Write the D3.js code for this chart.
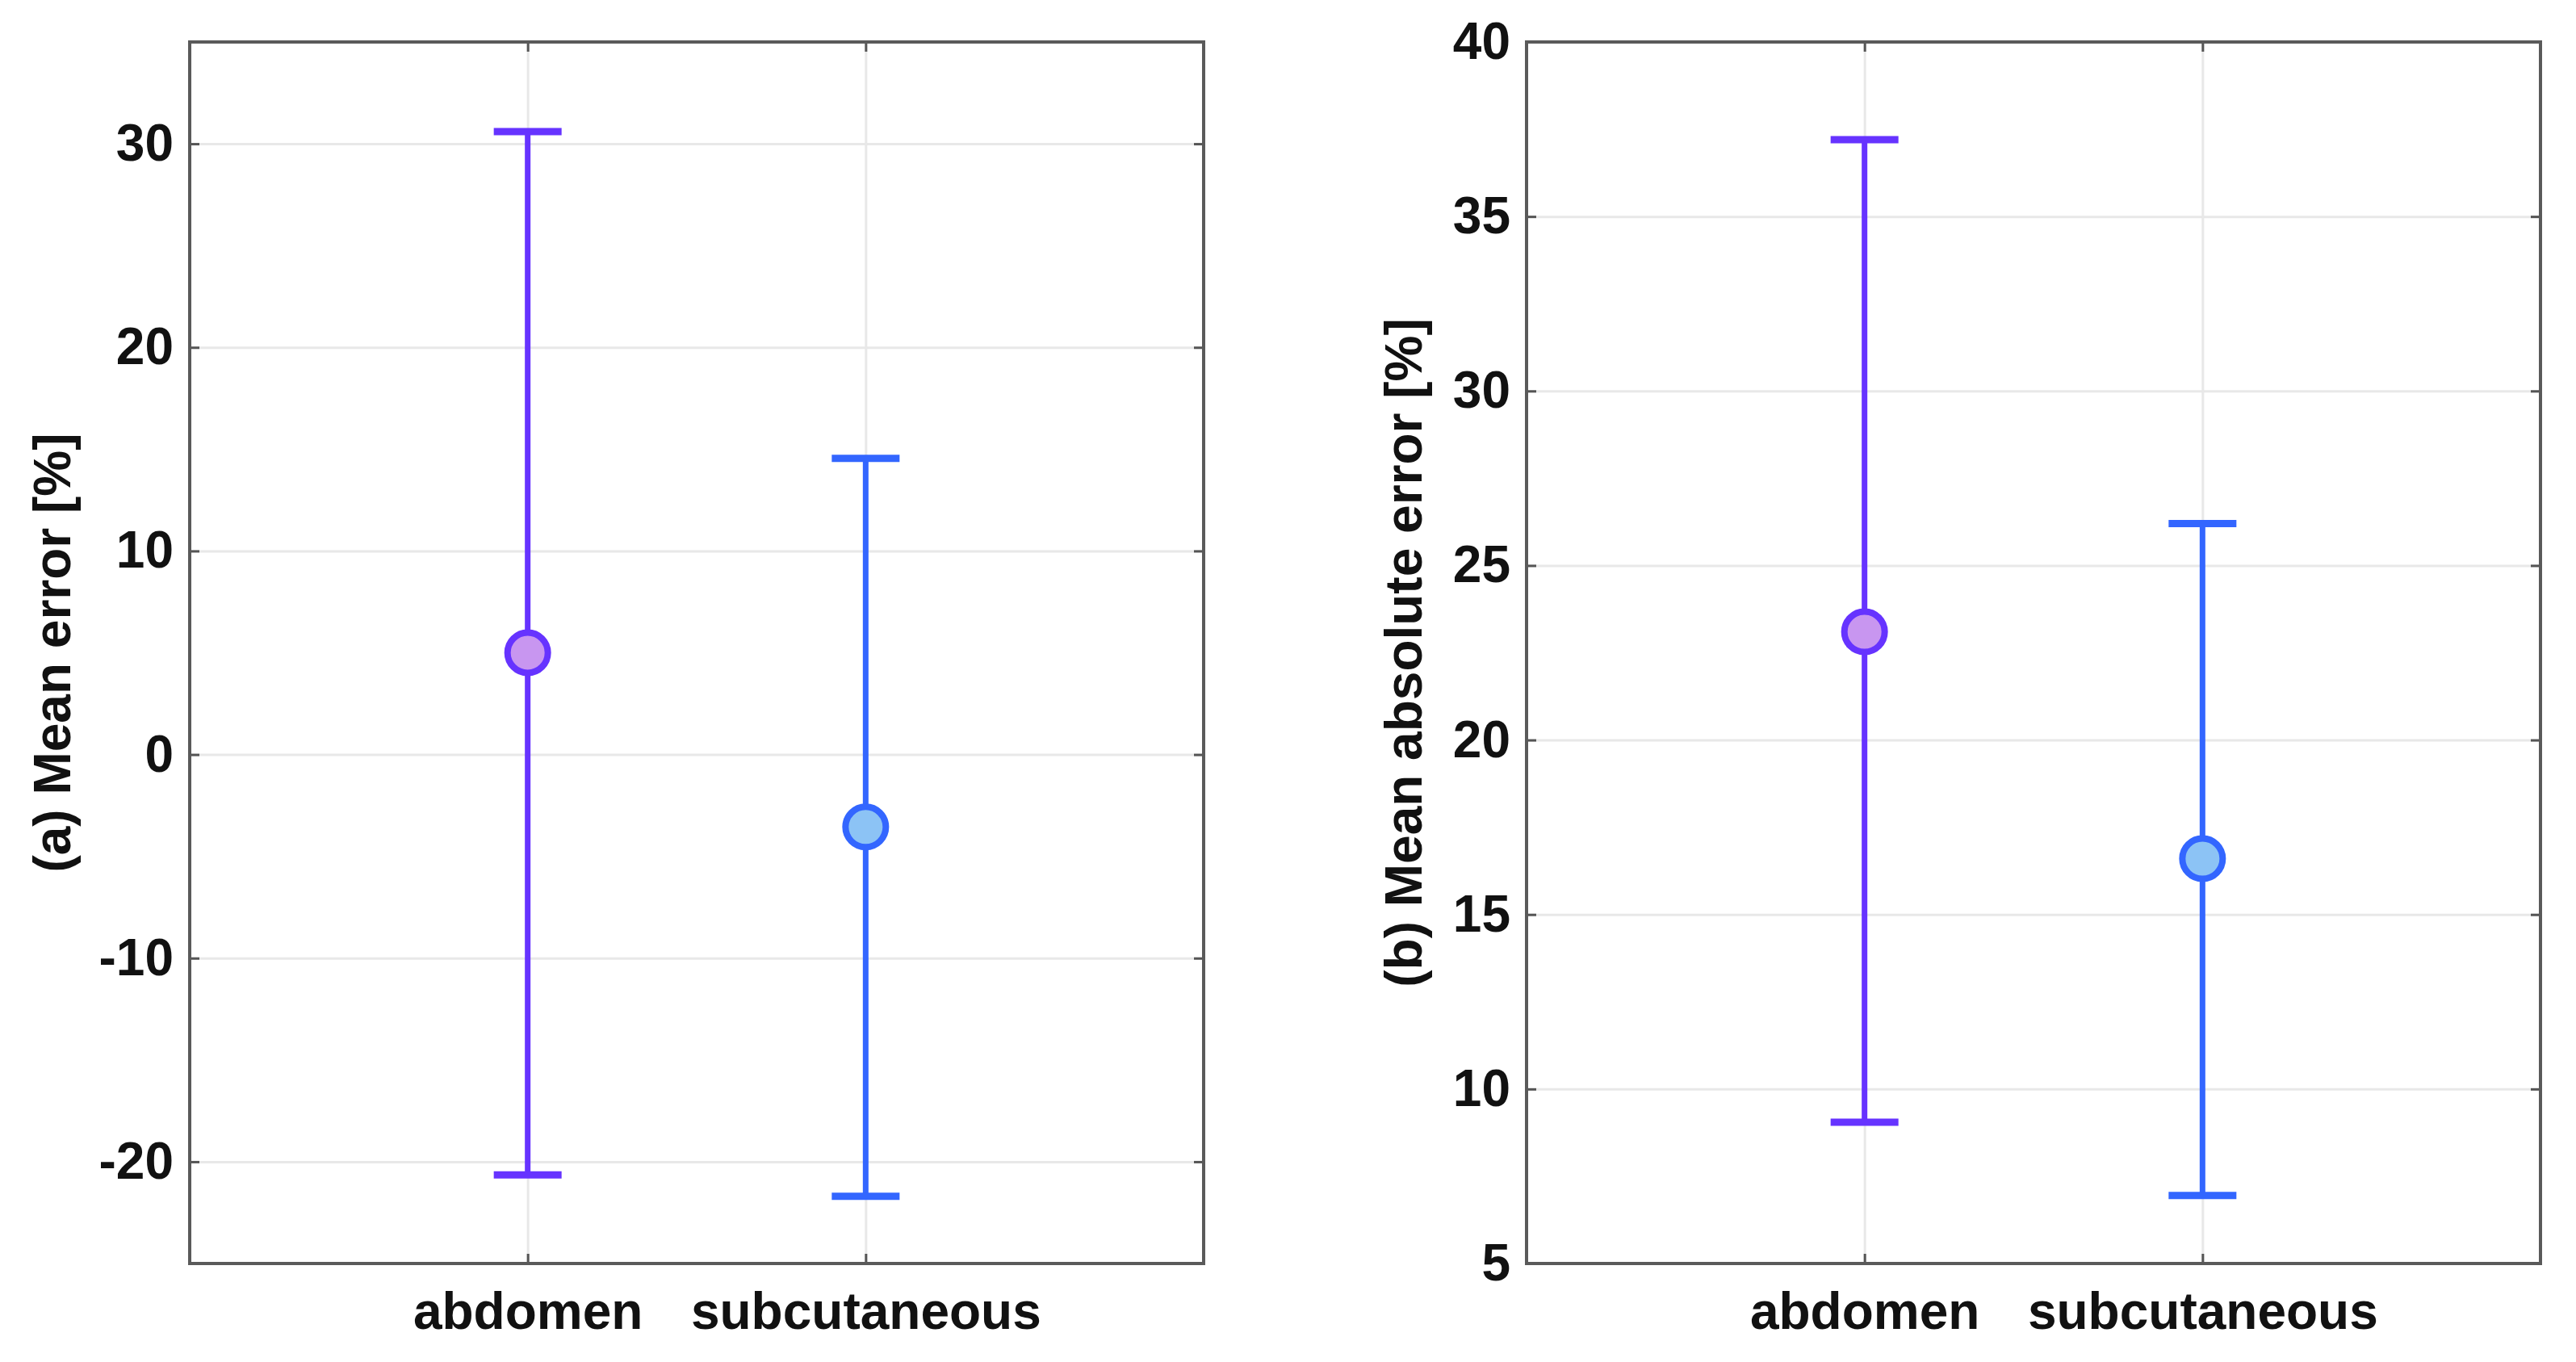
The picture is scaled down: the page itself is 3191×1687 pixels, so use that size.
<!DOCTYPE html>
<html>
<head>
<meta charset="utf-8">
<script src="https://cdn.jsdelivr.net/npm/d3@7"></script>
<style>
  html, body { margin: 0; padding: 0; background: #ffffff; }
  svg { display: block; }
  text { font-family: "Liberation Sans", Arial, Helvetica, sans-serif; font-weight: bold; fill: #111; }
</style>
</head>
<body>
<svg id="chart" width="3191" height="1687"></svg>
<script>
// ---------- data ----------
const categories = ["abdomen", "subcutaneous"];

// panel (a): mean error [%]
const meanError      = [5.0, -3.56];
const meanErrorLow   = [-20.65, -21.7];
const meanErrorHigh  = [30.6, 14.55];
const yTicksA        = [-20, -10, 0, 10, 20, 30];
const yDomainA       = [-25, 35];

// panel (b): mean absolute error [%]
const meanAbsError     = [23.1, 16.6];
const meanAbsErrorLow  = [9.05, 6.95];
const meanAbsErrorHigh = [37.2, 26.2];
const yTicksB          = [5, 10, 15, 20, 25, 30, 35, 40];
const yDomainB         = [5, 40];

const yLabelA = "(a) Mean error [%]";
const yLabelB = "(b) Mean absolute error [%]";

// ---------- styles ----------
const lineColors = ["#6633ff", "#3366ff"];
const fillColors = ["#c896f0", "#8cc3f5"];

const svg = d3.select("#chart");

function panel(opts) {
  const { left, right, top, bottom, yDomain, yTicks, mean, low, high, label, labelX } = opts;
  const W = right - left, H = bottom - top;
  const g = svg.append("g");

  const x = d3.scalePoint().domain(categories).range([left, right]).padding(1);
  const y = d3.scaleLinear().domain(yDomain).range([bottom, top]);

  // grid lines
  g.append("g")
    .attr("transform", `translate(${left},0)`)
    .call(d3.axisLeft(y).tickValues(yTicks).tickSize(-W).tickFormat(""))
    .call(s => s.select(".domain").remove())
    .call(s => s.selectAll(".tick line").attr("stroke", "#e8e8e8").attr("stroke-width", 3));
  g.append("g")
    .attr("transform", `translate(0,${bottom})`)
    .call(d3.axisBottom(x).tickSize(-H).tickFormat(""))
    .call(s => s.select(".domain").remove())
    .call(s => s.selectAll(".tick line").attr("stroke", "#e8e8e8").attr("stroke-width", 3));

  // axes with inward ticks
  const yAxis = g.append("g")
    .attr("transform", `translate(${left},0)`)
    .call(d3.axisLeft(y).tickValues(yTicks).tickFormat(d => String(d))
      .tickSizeInner(-12).tickSizeOuter(0).tickPadding(20));
  yAxis.select(".domain").remove();
  yAxis.selectAll(".tick line").attr("stroke", "#555").attr("stroke-width", 3);
  yAxis.selectAll(".tick text").attr("font-size", 64).attr("font-family", "Liberation Sans, Arial, sans-serif").attr("font-weight", "bold").attr("fill", "#111");

  const yAxisR = g.append("g")
    .attr("transform", `translate(${right},0)`)
    .call(d3.axisRight(y).tickValues(yTicks).tickSizeInner(-12).tickSizeOuter(0).tickFormat(""));
  yAxisR.select(".domain").remove();
  yAxisR.selectAll(".tick line").attr("stroke", "#555").attr("stroke-width", 3);

  const xAxis = g.append("g")
    .attr("transform", `translate(0,${bottom})`)
    .call(d3.axisBottom(x).tickSizeInner(-12).tickSizeOuter(0).tickPadding(36));
  xAxis.select(".domain").remove();
  xAxis.selectAll(".tick line").attr("stroke", "#555").attr("stroke-width", 3);
  xAxis.selectAll(".tick text").attr("font-size", 64).attr("font-family", "Liberation Sans, Arial, sans-serif").attr("font-weight", "bold").attr("fill", "#111");

  const xAxisT = g.append("g")
    .attr("transform", `translate(0,${top})`)
    .call(d3.axisTop(x).tickSizeInner(-12).tickSizeOuter(0).tickFormat(""));
  xAxisT.select(".domain").remove();
  xAxisT.selectAll(".tick line").attr("stroke", "#555").attr("stroke-width", 3);

  // frame
  g.append("rect")
    .attr("x", left).attr("y", top).attr("width", W).attr("height", H)
    .attr("fill", "none").attr("stroke", "#5a5a5a").attr("stroke-width", 4);

  // y label
  g.append("text")
    .attr("transform", `translate(${labelX},${(top + bottom) / 2}) rotate(-90)`)
    .attr("text-anchor", "middle")
    .attr("dy", "0.36em")
    .attr("font-size", 64)
    .text(label);

  // error bars
  const capHalf = 42;
  const bars = g.append("g").selectAll("g").data(categories).join("g");
  bars.append("line")
    .attr("x1", d => x(d)).attr("x2", d => x(d))
    .attr("y1", (d, i) => y(low[i])).attr("y2", (d, i) => y(high[i]))
    .attr("stroke", (d, i) => lineColors[i]).attr("stroke-width", 7);
  bars.append("line")
    .attr("x1", d => x(d) - capHalf).attr("x2", d => x(d) + capHalf)
    .attr("y1", (d, i) => y(high[i])).attr("y2", (d, i) => y(high[i]))
    .attr("stroke", (d, i) => lineColors[i]).attr("stroke-width", 9);
  bars.append("line")
    .attr("x1", d => x(d) - capHalf).attr("x2", d => x(d) + capHalf)
    .attr("y1", (d, i) => y(low[i])).attr("y2", (d, i) => y(low[i]))
    .attr("stroke", (d, i) => lineColors[i]).attr("stroke-width", 9);
  bars.append("circle")
    .attr("cx", d => x(d)).attr("cy", (d, i) => y(mean[i]))
    .attr("r", 25)
    .attr("fill", (d, i) => fillColors[i])
    .attr("stroke", (d, i) => lineColors[i]).attr("stroke-width", 8);
}

panel({
  left: 235, right: 1491, top: 52, bottom: 1565,
  yDomain: yDomainA, yTicks: yTicksA,
  mean: meanError, low: meanErrorLow, high: meanErrorHigh,
  label: yLabelA, labelX: 64
});

panel({
  left: 1891, right: 3147, top: 52, bottom: 1565,
  yDomain: yDomainB, yTicks: yTicksB,
  mean: meanAbsError, low: meanAbsErrorLow, high: meanAbsErrorHigh,
  label: yLabelB, labelX: 1738
});
</script>
</body>
</html>
